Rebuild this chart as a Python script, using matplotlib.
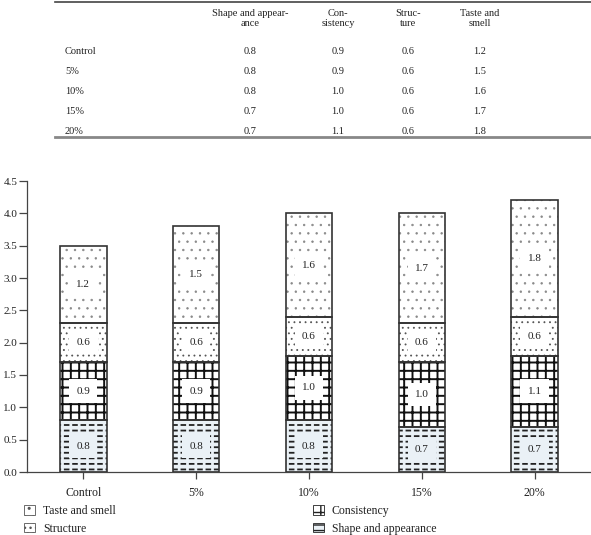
import numpy as np
import matplotlib
matplotlib.use("Agg")
import matplotlib.pyplot as plt
from matplotlib.lines import Line2D
from matplotlib.patches import Patch

plt.rcParams['font.family'] = ['Liberation Serif', 'DejaVu Serif']

# Data
groups = ['Control', '5%', '10%', '15%', '20%']
shape = [0.8, 0.8, 0.8, 0.7, 0.7]
consistency = [0.9, 0.9, 1.0, 1.0, 1.1]
structure = [0.6, 0.6, 0.6, 0.6, 0.6]
taste = [1.2, 1.5, 1.6, 1.7, 1.8]
headers = ['Shape and appear-\nance', 'Con-\nsistency', 'Struc-\nture', 'Taste and\nsmell']

W, H = 591, 535
fig = plt.figure(figsize=(W / 100, H / 100), dpi=100)
txt = '#222222'
edge = '#333333'

def fx(px):
    return px / W

def fy(py):
    return 1 - py / H

# ---- table on top ----
fig.add_artist(Line2D([fx(55), 1], [fy(1.5), fy(1.5)], color='#444444', lw=1.2))
fig.add_artist(Line2D([fx(55), 1], [fy(137), fy(137)], color='#888888', lw=2.0))
col_x = [250, 338, 408, 480]
for x, h in zip(col_x, headers):
    fig.text(fx(x), fy(18.5), h, ha='center', va='center', fontsize=7.5,
             color=txt, linespacing=1.25)
cols = [shape, consistency, structure, taste]
for i, g in enumerate(groups):
    y = fy(51 + 20 * i)
    fig.text(fx(65), y, g, ha='left', va='center', fontsize=7.5, color=txt)
    for x, c in zip(col_x, cols):
        fig.text(fx(x), y, f'{c[i]:.1f}', ha='center', va='center', fontsize=7.5, color=txt)

# ---- stacked bar chart ----
ax = fig.add_axes([fx(27), fy(472), fx(591 - 27), (472 - 181) / H])
x = np.arange(len(groups))
width = 0.41

def hatched_bar(vals, bottom, face, hatch, hcol, hlw, fill=True, z=2):
    with plt.rc_context({'hatch.linewidth': hlw}):
        if fill:
            bars = ax.bar(x, vals, width, bottom=bottom, color=face, edgecolor=hcol,
                          hatch=hatch, linewidth=0, zorder=z)
        else:
            bars = ax.bar(x, vals, width, bottom=bottom, fill=False, edgecolor=hcol,
                          hatch=hatch, linewidth=0, zorder=z)
    for b in bars:
        if hasattr(b, 'set_hatch_linewidth'):
            b.set_hatch_linewidth(hlw)
    return bars

segments = [
    (shape, '#eaf1f6', '---', '#222222', 1.3),
    (consistency, 'white', '++', '#111111', 1.4),
    (structure, 'white', '...', '#555555', 0.6),
    (taste, 'white', '..', '#888888', 0.5),
]

bottom = np.zeros(len(groups))
for vals, face, hatch, hcol, hlw in segments:
    hatched_bar(vals, bottom, face, hatch, hcol, hlw)
    if hatch == '---':
        # break the lines into dashes
        hatched_bar(vals, bottom, face, '||', face, 2.0, fill=False, z=2.5)
    ax.bar(x, vals, width, bottom=bottom, fill=False, edgecolor=edge,
           linewidth=1.2, zorder=3)
    for xi, v, b0 in zip(x, vals, bottom):
        ax.text(xi, b0 + v / 2, f'{v:.1f}', ha='center', va='center', fontsize=8,
                color=txt, zorder=4,
                bbox=dict(boxstyle='square,pad=0.65', fc=face, ec='none'))
    bottom = bottom + np.array(vals)

ax.set_xlim(-0.5, 4.5)
ax.set_ylim(0, 4.5)
ax.set_yticks(np.arange(0, 4.51, 0.5))
ax.set_yticklabels([f'{v:.1f}' for v in np.arange(0, 4.51, 0.5)])
ax.set_xticks(x)
ax.set_xticklabels(groups)
for s in ['top', 'right']:
    ax.spines[s].set_visible(False)
for s in ['left', 'bottom']:
    ax.spines[s].set_color('#444444')
    ax.spines[s].set_linewidth(0.9)
ax.tick_params(axis='y', length=6, width=0.9, color='#444444', labelsize=8,
               labelcolor=txt, pad=1)
ax.tick_params(axis='x', length=5, width=0.9, color='#444444', labelsize=8.5,
               labelcolor=txt, pad=6)

# ---- legend ----
def handle(face, hatch, hcol):
    return Patch(facecolor=face, edgecolor=hcol, hatch=hatch, linewidth=0.6)

leg1 = fig.legend([handle('white', '..', '#555555'), handle('white', '...', '#555555')],
                  ['Taste and smell', 'Structure'], loc='center left',
                  bbox_to_anchor=(fx(24), fy(520)), frameon=False, fontsize=8.5,
                  handlelength=0.9, handleheight=0.9, handletextpad=0.7,
                  labelspacing=0.45, borderpad=0, borderaxespad=0)
for t in leg1.get_texts():
    t.set_color(txt)
leg2 = fig.legend([handle('white', '++', '#222222'), handle('#eaf1f6', '---', '#222222')],
                  ['Consistency', 'Shape and appearance'], loc='center left',
                  bbox_to_anchor=(fx(313), fy(520)), frameon=False, fontsize=8.5,
                  handlelength=0.9, handleheight=0.9, handletextpad=0.7,
                  labelspacing=0.45, borderpad=0, borderaxespad=0)
for t in leg2.get_texts():
    t.set_color(txt)

fig.savefig('out.png', dpi=100)
